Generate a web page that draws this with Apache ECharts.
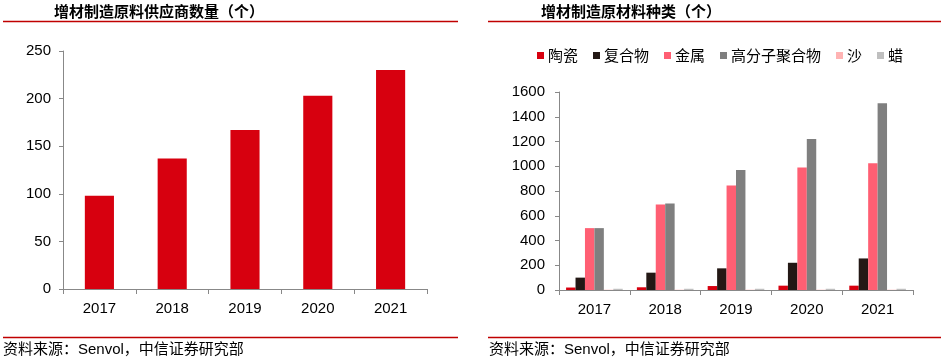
<!DOCTYPE html>
<html><head><meta charset="utf-8">
<script src="https://cdn.jsdelivr.net/npm/echarts@6/dist/echarts.min.js"></script>
<style>html,body{margin:0;padding:0;background:#fff}#c{width:945px;height:358px}</style>
</head><body><div id="c"></div>
<script>
const years = ['2017','2018','2019','2020','2021'];
const suppliers = [98, 137, 167, 203, 230];
const seriesNames = ['陶瓷','复合物','金属','高分子聚合物','沙','蜡'];
const ceramic = [20, 22, 32, 35, 35];
const composite = [100, 140, 175, 220, 255];
const metal = [500, 690, 845, 990, 1025];
const polymer = [500, 700, 970, 1220, 1510];
const sand = [2, 2, 2, 2, 2];
const wax = [10, 10, 10, 10, 10];
const leftTitle = '增材制造原料供应商数量（个）';
const rightTitle = '增材制造原材料种类（个）';
const sourceText = '资料来源：Senvol，中信证券研究部';

const colors = ['#d7000f','#231815','#ff5f73','#7f7f7f','#ffb3b3','#bfbfbf'];
const font = '"Liberation Sans", Arial, "Noto Sans CJK SC", sans-serif';
const cjk = '"Noto Sans CJK SC", sans-serif';
const axisColor = '#888888';
const chart = echarts.init(document.getElementById('c'), null, {renderer:'canvas'});

function yAxis(gi, max, interval, margin) {
  return {
    type:'value', gridIndex:gi, min:0, max:max, interval:interval,
    axisLine:{show:true, lineStyle:{color:axisColor, width:1}},
    axisTick:{show:true, length:4, lineStyle:{color:axisColor}},
    splitLine:{show:false},
    axisLabel:{color:'#000', fontSize:15, fontFamily:font, margin:margin, formatter:v=>String(v)}
  };
}
function xAxis(gi) {
  return {
    type:'category', gridIndex:gi, data:years,
    axisLine:{lineStyle:{color:axisColor, width:1}},
    axisTick:{show:true, length:5, alignWithLabel:false, lineStyle:{color:axisColor}},
    axisLabel:{color:'#000', fontSize:15, fontFamily:font, margin:12}
  };
}
const dataArr = [ceramic, composite, metal, polymer, sand, wax];
const rightSeries = seriesNames.map((n,i)=>({
  name:n, type:'bar', xAxisIndex:1, yAxisIndex:1, data:dataArr[i],
  itemStyle:{color:colors[i]}, barGap:'0%', barCategoryGap:'20%'
}));

chart.setOption({
  animation:false,
  textStyle:{fontFamily:font},
  grid:[
    {left:63, right:518, top:51, bottom:69},
    {left:559, right:32, top:92, bottom:68}
  ],
  title:[
    {text:leftTitle, left:54, top:4, padding:0, textStyle:{fontSize:15, fontWeight:'bold', color:'#000', fontFamily:cjk}},
    {text:rightTitle, left:541, top:4, padding:0, textStyle:{fontSize:15, fontWeight:'bold', color:'#000', fontFamily:cjk}},
    {text:sourceText, left:3, top:342, padding:0, textStyle:{fontSize:15, fontWeight:'normal', color:'#000', fontFamily:font}},
    {text:sourceText, left:489, top:342, padding:0, textStyle:{fontSize:15, fontWeight:'normal', color:'#000', fontFamily:font}}
  ],
  legend:{
    data:seriesNames, left:537, top:48, padding:0, icon:'rect', itemWidth:7, itemHeight:7, itemGap:15,
    textStyle:{fontSize:15, color:'#000', fontFamily:cjk, padding:[0,0,0,-1]}
  },
  xAxis:[xAxis(0), xAxis(1)],
  yAxis:[yAxis(0,250,50,12), yAxis(1,1600,200,14)],
  series:[
    {type:'bar', xAxisIndex:0, yAxisIndex:0, data:suppliers, barWidth:'40%', itemStyle:{color:'#d7000f'}}
  ].concat(rightSeries),
  graphic:[
    {type:'line', shape:{x1:3,y1:21.5,x2:458,y2:21.5}, style:{stroke:'#c00000', lineWidth:1.5}},
    {type:'line', shape:{x1:488,y1:21.5,x2:941,y2:21.5}, style:{stroke:'#c00000', lineWidth:1.5}},
    {type:'line', shape:{x1:3,y1:337.5,x2:458,y2:337.5}, style:{stroke:'#c00000', lineWidth:1.5}},
    {type:'line', shape:{x1:488,y1:337.5,x2:941,y2:337.5}, style:{stroke:'#c00000', lineWidth:1.5}}
  ]
});
</script></body></html>
